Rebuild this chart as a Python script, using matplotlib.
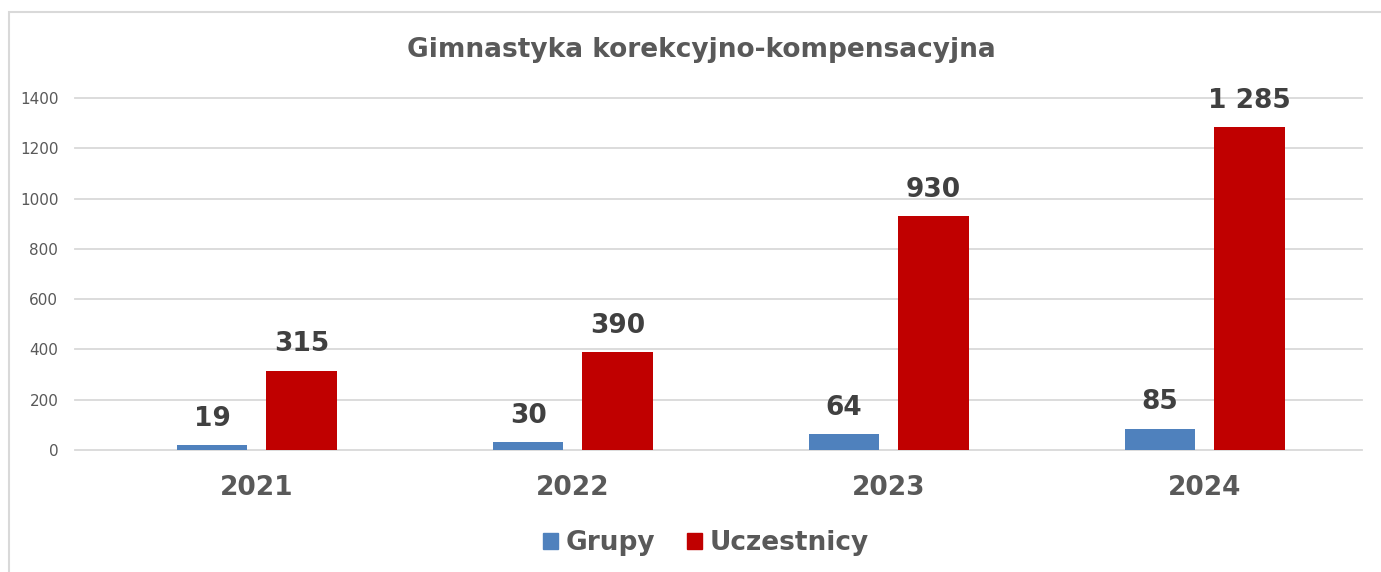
# Gimnastyka korekcyjno-kompensacyjna - grupy i uczestnicy w latach 2021-2024

import matplotlib
matplotlib.use("Agg")
import matplotlib.pyplot as plt
import numpy as np
from matplotlib.patches import Rectangle

# Dane
lata = ["2021", "2022", "2023", "2024"]
grupy = [19, 30, 64, 85]
uczestnicy = [315, 390, 930, 1285]
y_ticks = [0, 200, 400, 600, 800, 1000, 1200, 1400]

kolor_grupy = "#4F81BD"
kolor_ucz = "#C00000"
szary = "#595959"
ciemny = "#404040"

plt.rcParams["font.family"] = ["DejaVu Sans"]

fig = plt.figure(figsize=(13.81, 5.72), dpi=100)

# ramka wykresu (lekko szara, ucięta z prawej i z dołu)
fig.patches.append(Rectangle((9 / 1381, -0.1), 1.2, 1 - 12 / 572 + 0.1,
                             transform=fig.transFigure, fill=False,
                             edgecolor="#D9D9D9", linewidth=1.5))

ax = fig.add_axes([75 / 1381, 1 - 450 / 572, (1362 - 75) / 1381, 352 / 572])

x = np.arange(len(lata))
w = 0.222
b1 = ax.bar(x - 0.142, grupy, width=w, color=kolor_grupy, zorder=3)
b2 = ax.bar(x + 0.141, uczestnicy, width=w, color=kolor_ucz, zorder=3)

# etykiety wartości
for bars, vals in [(b1, grupy), (b2, uczestnicy)]:
    for r, v in zip(bars, vals):
        ax.annotate(f"{v:,}".replace(",", " "),
                    (r.get_x() + r.get_width() / 2, v),
                    xytext=(0, 19), textcoords="offset points",
                    ha="center", va="center", fontsize=19,
                    fontweight="bold", color=ciemny)

ax.set_xlim(-0.576, 3.497)
ax.set_ylim(0, 1400)
ax.set_yticks(y_ticks)
ax.set_yticklabels([str(t) for t in y_ticks], fontsize=11, color=szary)
ax.set_xticks(x)
ax.set_xticklabels(lata, fontsize=19, fontweight="bold", color=szary)
ax.tick_params(axis="y", length=0, pad=12)
ax.tick_params(axis="x", length=0, pad=18)

ax.grid(axis="y", color="#D9D9D9", linewidth=1.3, zorder=0)
for gl in ax.get_ygridlines():
    gl.set_clip_on(False)
for s in ax.spines.values():
    s.set_visible(False)

fig.text(701 / 1381, 1 - 50 / 572, "Gimnastyka korekcyjno-kompensacyjna",
         ha="center", va="center", fontsize=19, fontweight="bold", color=szary)

h1 = Rectangle((0, 0), 1, 1, color=kolor_grupy)
h2 = Rectangle((0, 0), 1, 1, color=kolor_ucz)
leg = fig.legend([h1, h2], ["Grupy", "Uczestnicy"], loc="center",
                 bbox_to_anchor=(706 / 1381, 1 - 543 / 572), ncol=2,
                 frameon=False, handlelength=0.55, handleheight=0.55,
                 handletextpad=0.3, columnspacing=1.2,
                 prop={"size": 19, "weight": "bold"})
for t in leg.get_texts():
    t.set_color(szary)

fig.savefig("out.png", dpi=100)
